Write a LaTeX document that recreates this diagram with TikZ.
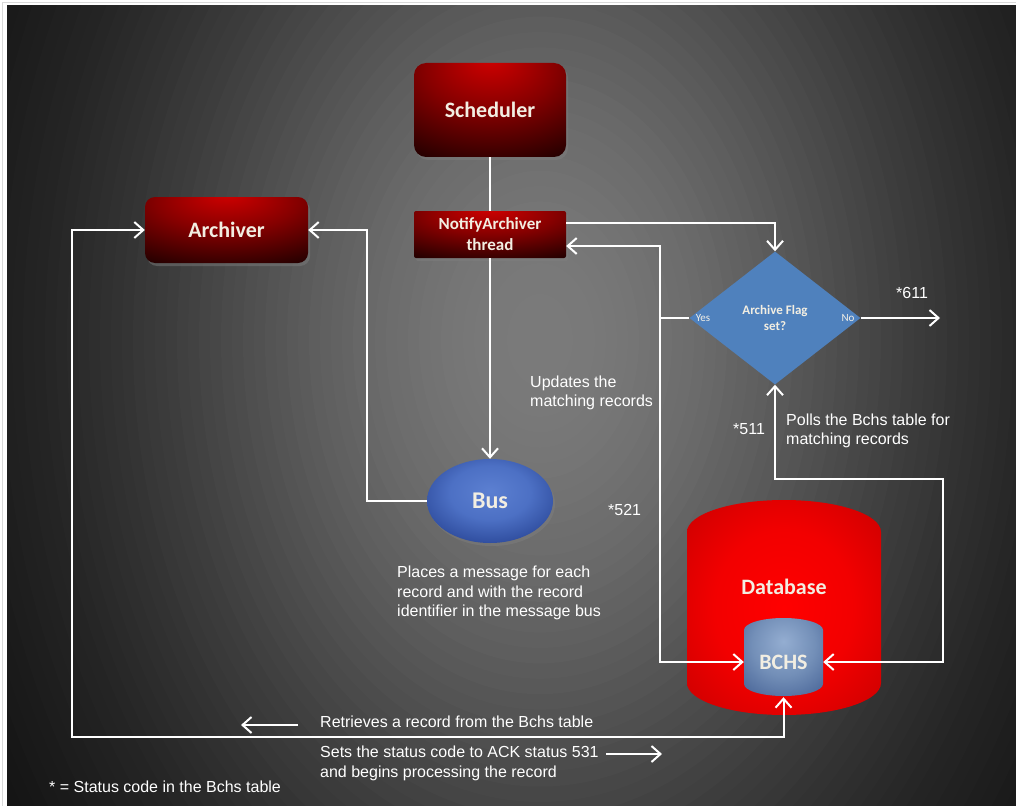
\documentclass[tikz,border=0pt]{standalone}
\usepackage{fontspec}
\setmainfont{Carlito}
\newfontfamily\descfont{Liberation Sans}
\usetikzlibrary{arrows.meta,positioning,shapes.geometric,shadows}
\definecolor{nodetext}{RGB}{242,238,226}
\definecolor{flagblue}{RGB}{79,129,189}
\pgfdeclareradialshading{redglow}{\pgfpoint{0bp}{28bp}}{rgb(0bp)=(0.82,0,0); rgb(22bp)=(0.52,0,0); rgb(45bp)=(0.16,0,0); rgb(62bp)=(0.03,0,0); rgb(100bp)=(0,0,0)}
\pgfdeclareradialshading{busglow}{\pgfpoint{0bp}{6bp}}{rgb(0bp)=(0.36,0.5,0.82); rgb(16bp)=(0.3,0.44,0.77); rgb(28bp)=(0.2,0.32,0.64); rgb(36bp)=(0.13,0.23,0.52); rgb(50bp)=(0.1,0.18,0.44); rgb(100bp)=(0.1,0.18,0.44)}
\pgfdeclareradialshading{dbglow}{\pgfpoint{0bp}{0bp}}{rgb(0bp)=(1,0,0); rgb(18bp)=(0.95,0,0); rgb(35bp)=(0.8,0,0); rgb(45bp)=(0.68,0,0); rgb(55bp)=(0.6,0,0); rgb(100bp)=(0.55,0,0)}
\pgfdeclareradialshading{bchsglow}{\pgfpoint{0bp}{10bp}}{rgb(0bp)=(0.58,0.68,0.82); rgb(20bp)=(0.45,0.56,0.72); rgb(35bp)=(0.32,0.43,0.62); rgb(50bp)=(0.26,0.37,0.56); rgb(100bp)=(0.24,0.34,0.52)}
\begin{document}
\begin{tikzpicture}[x=1pt,y=-1pt,>={Straight Barb[length=9pt,width=16pt]},
    flow/.style={draw=white,line width=2pt},
    redbox/.style={shading=redglow,text=nodetext,inner sep=0pt,
      font=\bfseries\fontsize{22}{26}\selectfont,
      drop shadow={shadow xshift=2pt,shadow yshift=-3pt,opacity=0.45}},
    flagnote/.style={text=nodetext!85,inner sep=0pt,font=\fontsize{11}{13}\selectfont},
    desc/.style={text=white,inner sep=0pt,align=left,anchor=west,
      font=\descfont\fontsize{16}{19.5}\selectfont},
    code/.style={text=white,inner sep=0pt,anchor=base west,
      font=\descfont\fontsize{16}{19.5}\selectfont}]
  \useasboundingbox (0,0) rectangle (1016,805);
  % backdrop
  \fill[white] (0,0) rectangle (1016,805);
  \draw[black!15,line width=1pt] (2.5,2.5) rectangle (1020,810);
  \begin{scope}
    \clip (7,6) rectangle (1016,805);
    \fill[black!94] (7,6) rectangle (1016,805);
    \foreach \i in {60,59,...,1} {
      \pgfmathsetmacro{\lum}{0.03+0.45*exp(-((\i*11/430)^2))}
      \definecolor{bgstep}{gray}{\lum}
      \fill[bgstep] (540,340) ellipse[x radius=\i*11,y radius=\i*15.4];
    }
  \end{scope}

  \node[redbox,rounded corners=12pt,minimum width=152pt,minimum height=94pt] (sched) at (490,110) {Scheduler};
  \node[redbox,rounded corners=2pt,minimum width=152pt,minimum height=47pt,align=center,
    font=\bfseries\fontsize{17}{21}\selectfont] (notify) at (490,234.5) {NotifyArchiver\\thread};
  \node[redbox,rounded corners=10pt,minimum width=163pt,minimum height=66pt] (arch) at (226.5,230) {Archiver};
  \node[ellipse,shading=busglow,minimum width=126pt,minimum height=84pt,inner sep=0pt,text=nodetext,
    font=\bfseries\fontsize{24}{28}\selectfont,
    drop shadow={shadow xshift=2pt,shadow yshift=-3pt,opacity=0.45}] (bus) at (490,501) {Bus};
  \node[diamond,fill=flagblue,minimum width=171pt,minimum height=133pt,inner sep=0pt,align=center,
    text=nodetext,font=\bfseries\fontsize{13}{16}\selectfont] (flag) at (775,318) {Archive Flag\\set?};
  \node[flagnote] (yes) at (703,318) {Yes};
  \node[flagnote] (no) at (848,318) {No};

  % database with the bchs table inside
  \shade[shading=dbglow] (687,532) -- (687,683)
    arc[start angle=180,end angle=360,x radius=97pt,y radius=32pt] -- (881,532)
    arc[start angle=0,end angle=180,x radius=97pt,y radius=32pt] -- cycle;
  \node[text=nodetext,font=\bfseries\fontsize{22}{26}\selectfont] (dblabel) at (784,587) {Database};
  \shade[shading=bchsglow] (744,630) -- (744,684)
    arc[start angle=180,end angle=360,x radius=39.5pt,y radius=12pt] -- (823,630)
    arc[start angle=0,end angle=180,x radius=39.5pt,y radius=12pt] -- cycle;
  \node[minimum width=79pt,minimum height=70pt,inner sep=0pt,text=nodetext,
    font=\bfseries\fontsize{22}{26}\selectfont] (bchs) at (783.5,662) {BCHS};

  \coordinate (split) at (660,318);
  \coordinate (noend) at (940,318);
  \coordinate (pollturn) at (943,479);
  \coordinate (loopturn) at (72,737);
  \draw[flow] (sched) -- (notify);
  \draw[flow,->] (notify) -- (bus);
  \draw[flow,->] (bus.west) -- ++(-60,0) |- (arch.east);
  \draw[flow,->] ([yshift=11.5pt]notify.east) -| (flag.north);
  \draw[flow] (flag.west) -- (split);
  \draw[flow,->] (split) |- ([yshift=-11.5pt]notify.east);
  \draw[flow,->] (split) |- (bchs.west);
  \draw[flow,->] (flag.east) -- (noend);
  \draw[flow,<->] (bchs.east) -| (pollturn) -| (flag.south);
  \draw[flow,<->] (arch.west) -| (loopturn) -| (bchs.south);

  \node[desc] (updates) at (530,393) {Updates the\\matching records};
  \node[desc] (polls) at (786,431) {Polls the Bchs table for\\matching records};
  \node[desc] (places) at (397,593) {Places a message for each\\record and with the record\\identifier in the message bus};
  \node[code] (retr) at (320,727) {Retrieves a record from the Bchs table};
  \node[desc] (ack) at (320,763.5) {Sets the status code to ACK status 531\\and begins processing the record};
  \node[code] (legend) at (49,792) {* = Status code in the Bchs table};
  \foreach \nm/\x/\y/\txt in {c611/896/298/*611,c511/733/434/*511,c521/608/515/*521}
    \node[code] (\nm) at (\x,\y) {\txt};

  \coordinate (retrA) at (298,725);
  \coordinate (retrB) at (241,725);
  \coordinate (ackA) at (606,754);
  \coordinate (ackB) at (662,754);
  \draw[flow,->] (retrA) -- (retrB);
  \draw[flow,->] (ackA) -- (ackB);
\end{tikzpicture}
\end{document}
